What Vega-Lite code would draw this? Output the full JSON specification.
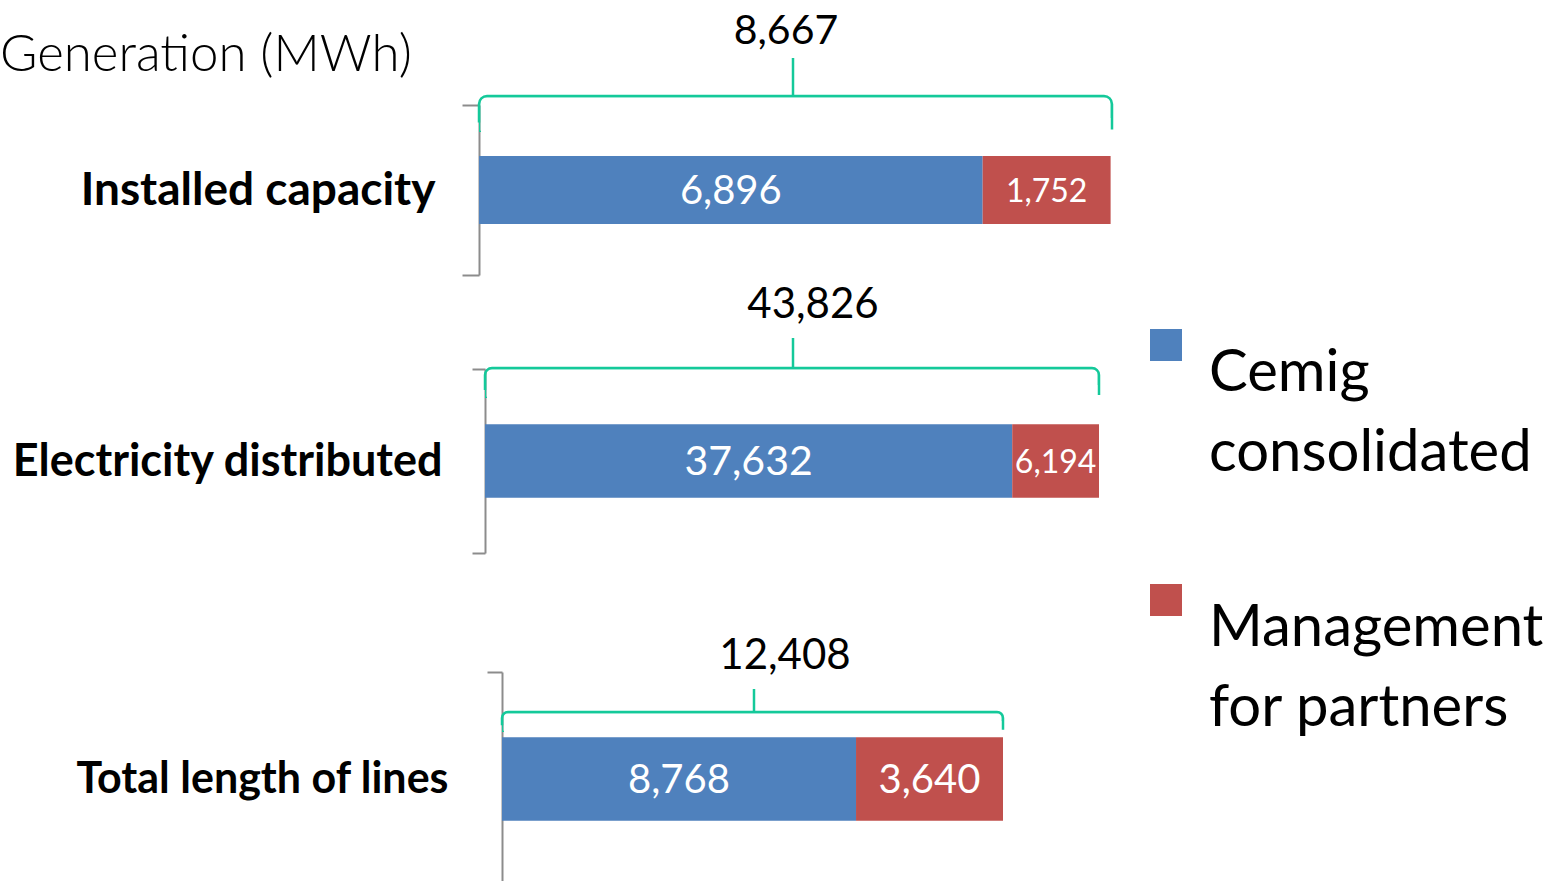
{
  "$schema": "https://vega.github.io/schema/vega-lite/v6.json",
  "padding": 0,
  "config": {"view": {"stroke": null}, "axis": {"grid": false}, "font": "Lato", "style": {"guide-label": {"lineHeight": 80}}},
  "datasets": {
    "bars": [
      {"metric": "Installed capacity", "series": "Cemig consolidated", "value": 6896},
      {"metric": "Installed capacity", "series": "Management for partners", "value": 1752},
      {"metric": "Electricity distributed", "series": "Cemig consolidated", "value": 37632},
      {"metric": "Electricity distributed", "series": "Management for partners", "value": 6194},
      {"metric": "Total length of lines", "series": "Cemig consolidated", "value": 8768},
      {"metric": "Total length of lines", "series": "Management for partners", "value": 3640}
    ],
    "totals": [
      {"metric": "Installed capacity", "total": 8667},
      {"metric": "Electricity distributed", "total": 43826},
      {"metric": "Total length of lines", "total": 12408}
    ]
  },
  "title": {"text": "Generation (MWh)", "anchor": "start", "orient": "top", "offset": -122, "baseline": "alphabetic", "font": "Lato", "fontSize": 51, "fontWeight": 300, "color": "#000000"},
  "spacing": 0,
  "align": "none",
  "bounds": "full",
  "resolve": {"scale": {"x": "independent", "y": "independent", "color": "shared"}},
  "vconcat": [
    {
      "width": 610, "height": 170,
      "layer": [
        {
          "data": {"name": "bars"},
          "transform": [{"filter": "datum.metric === 'Installed capacity'"}],
          "mark": {"type": "bar", "height": {"band": 0.4}},
          "encoding": {
            "y": {"field": "metric", "type": "nominal", "title": null, "scale": {"paddingInner": 0, "paddingOuter": 0},
                  "axis": {"offset": 23, "domainColor": "#8C8C8C", "domainWidth": 2, "tickColor": "#8C8C8C", "tickWidth": 2, "tickSize": 17, "tickBand": "extent", "labelFont": "Lato", "labelFontWeight": "bold", "labelFontSize": 46, "labelColor": "#000000", "labelPadding": 27, "labelLimit": 1000, "minExtent": 479, "maxExtent": 479}},
            "x": {"field": "value", "type": "quantitative", "stack": "zero", "title": null, "scale": {"nice": false, "zero": true, "range": [-23, 610]},
                  "axis": {"orient": "top", "domain": false, "ticks": false, "labels": false, "title": null, "minExtent": 105, "maxExtent": 105}},
            "order": {"field": "series", "type": "nominal", "sort": "ascending"},
            "color": {"field": "series", "type": "nominal",
                      "scale": {"domain": ["Cemig consolidated", "Management for partners"], "range": ["#4F81BD", "#C0504D"]},
                      "legend": {"orient": "none", "legendX": 635, "legendY": 211, "title": null, "symbolType": "square", "symbolSize": 1024, "symbolStrokeWidth": 0,
                                 "labelFont": "Lato", "labelFontSize": 58, "labelColor": "#000000", "labelBaseline": "top", "labelOffset": 14, "labelLimit": 1000, "rowPadding": 88,
                                 "labelExpr": "datum.label === 'Cemig consolidated' ? ['Cemig', 'consolidated'] : ['Management', 'for partners']"}}
          }
        },
        {
          "data": {"name": "bars"},
          "transform": [{"filter": "datum.metric === 'Installed capacity'"}],
          "mark": {"type": "text", "color": "#FFFFFF", "font": "Lato", "baseline": "middle", "dy": 2},
          "encoding": {
            "y": {"field": "metric", "type": "nominal", "title": null},
            "x": {"field": "value", "type": "quantitative", "stack": "zero", "bandPosition": 0.5, "title": null},
            "order": {"field": "series", "type": "nominal", "sort": "ascending"},
            "detail": {"field": "series", "type": "nominal"},
            "text": {"field": "value", "type": "quantitative", "format": ","},
            "size": {"condition": {"test": "datum.series === 'Cemig consolidated'", "value": 40}, "value": 32}
          }
        },
        {
          "data": {"name": "totals"},
          "transform": [{"filter": "datum.metric === 'Installed capacity'"}],
          "mark": {"type": "bar", "fillOpacity": 0, "stroke": "#14C99A", "strokeWidth": 2.5, "height": 36, "yOffset": -76, "cornerRadiusTopLeft": 8, "cornerRadiusTopRight": 8, "strokeDash": [655, 645]},
          "encoding": {
            "y": {"field": "metric", "type": "nominal", "title": null},
            "x": {"field": "total", "type": "quantitative", "title": null}
          }
        },
        {
          "data": {"name": "totals"},
          "transform": [{"filter": "datum.metric === 'Installed capacity'"}],
          "mark": {"type": "tick", "orient": "vertical", "color": "#14C99A", "size": 38, "thickness": 2.5, "opacity": 1, "x": "width", "xOffset": -319, "yOffset": -113},
          "encoding": {"y": {"field": "metric", "type": "nominal", "title": null}}
        },
        {
          "data": {"name": "totals"},
          "transform": [{"filter": "datum.metric === 'Installed capacity'"}],
          "mark": {"type": "text", "color": "#000000", "font": "Lato", "fontSize": 41, "baseline": "alphabetic", "align": "center", "x": "width", "dx": -326, "dy": -146},
          "encoding": {
            "y": {"field": "metric", "type": "nominal", "title": null},
            "text": {"field": "total", "type": "quantitative", "format": ","}
          }
        }
      ]
    },
    {
      "width": 597, "height": 184,
      "layer": [
        {
          "data": {"name": "bars"},
          "transform": [{"filter": "datum.metric === 'Electricity distributed'"}],
          "mark": {"type": "bar", "height": {"band": 0.4}},
          "encoding": {
            "y": {"field": "metric", "type": "nominal", "title": null, "scale": {"paddingInner": 0, "paddingOuter": 0},
                  "axis": {"offset": 17, "domainColor": "#8C8C8C", "domainWidth": 2, "tickColor": "#8C8C8C", "tickWidth": 2, "tickSize": 13, "tickBand": "extent", "labelFont": "Lato", "labelFontWeight": "bold", "labelFontSize": 45, "labelColor": "#000000", "labelPadding": 30, "labelLimit": 1000, "minExtent": 485, "maxExtent": 485}},
            "x": {"field": "value", "type": "quantitative", "stack": "zero", "title": null, "scale": {"nice": false, "zero": true, "range": [-17, 597]},
                  "axis": {"orient": "top", "domain": false, "ticks": false, "labels": false, "title": null, "minExtent": 93, "maxExtent": 93}},
            "order": {"field": "series", "type": "nominal", "sort": "ascending"},
            "color": {"field": "series", "type": "nominal"}
          }
        },
        {
          "data": {"name": "bars"},
          "transform": [{"filter": "datum.metric === 'Electricity distributed'"}],
          "mark": {"type": "text", "color": "#FFFFFF", "font": "Lato", "baseline": "middle", "dy": 2},
          "encoding": {
            "y": {"field": "metric", "type": "nominal", "title": null},
            "x": {"field": "value", "type": "quantitative", "stack": "zero", "bandPosition": 0.5, "title": null},
            "order": {"field": "series", "type": "nominal", "sort": "ascending"},
            "detail": {"field": "series", "type": "nominal"},
            "text": {"field": "value", "type": "quantitative", "format": ","},
            "size": {"condition": {"test": "datum.series === 'Cemig consolidated'", "value": 41}, "value": 32}
          }
        },
        {
          "data": {"name": "totals"},
          "transform": [{"filter": "datum.metric === 'Electricity distributed'"}],
          "mark": {"type": "bar", "fillOpacity": 0, "stroke": "#14C99A", "strokeWidth": 2.5, "height": 30, "yOffset": -78, "cornerRadiusTopLeft": 7, "cornerRadiusTopRight": 7, "strokeDash": [631, 625]},
          "encoding": {
            "y": {"field": "metric", "type": "nominal", "title": null},
            "x": {"field": "total", "type": "quantitative", "title": null}
          }
        },
        {
          "data": {"name": "totals"},
          "transform": [{"filter": "datum.metric === 'Electricity distributed'"}],
          "mark": {"type": "tick", "orient": "vertical", "color": "#14C99A", "size": 30, "thickness": 2.5, "opacity": 1, "x": "width", "xOffset": -306, "yOffset": -108},
          "encoding": {"y": {"field": "metric", "type": "nominal", "title": null}}
        },
        {
          "data": {"name": "totals"},
          "transform": [{"filter": "datum.metric === 'Electricity distributed'"}],
          "mark": {"type": "text", "color": "#000000", "font": "Lato", "fontSize": 42, "baseline": "alphabetic", "align": "center", "x": "width", "dx": -286, "dy": -143},
          "encoding": {
            "y": {"field": "metric", "type": "nominal", "title": null},
            "text": {"field": "total", "type": "quantitative", "format": ","}
          }
        }
      ]
    },
    {
      "width": 501, "height": 214,
      "layer": [
        {
          "data": {"name": "bars"},
          "transform": [{"filter": "datum.metric === 'Total length of lines'"}],
          "mark": {"type": "bar", "height": {"band": 0.39}},
          "encoding": {
            "y": {"field": "metric", "type": "nominal", "title": null, "scale": {"paddingInner": 0, "paddingOuter": 0},
                  "axis": {"domainColor": "#8C8C8C", "domainWidth": 2, "tickColor": "#8C8C8C", "tickWidth": 2, "tickSize": 15, "tickBand": "extent", "labelFont": "Lato", "labelFontWeight": "bold", "labelFontSize": 43, "labelColor": "#000000", "labelPadding": 39, "labelLimit": 1000, "minExtent": 502, "maxExtent": 502}},
            "x": {"field": "value", "type": "quantitative", "stack": "zero", "title": null, "scale": {"nice": false, "zero": true},
                  "axis": {"orient": "top", "domain": false, "ticks": false, "labels": false, "title": null, "minExtent": 118, "maxExtent": 118}},
            "order": {"field": "series", "type": "nominal", "sort": "ascending"},
            "color": {"field": "series", "type": "nominal"}
          }
        },
        {
          "data": {"name": "bars"},
          "transform": [{"filter": "datum.metric === 'Total length of lines'"}],
          "mark": {"type": "text", "color": "#FFFFFF", "font": "Lato", "baseline": "middle", "dy": 2, "fontSize": 40},
          "encoding": {
            "y": {"field": "metric", "type": "nominal", "title": null},
            "x": {"field": "value", "type": "quantitative", "stack": "zero", "bandPosition": 0.5, "title": null},
            "order": {"field": "series", "type": "nominal", "sort": "ascending"},
            "detail": {"field": "series", "type": "nominal"},
            "text": {"field": "value", "type": "quantitative", "format": ","}
          }
        },
        {
          "data": {"name": "totals"},
          "transform": [{"filter": "datum.metric === 'Total length of lines'"}],
          "mark": {"type": "bar", "fillOpacity": 0, "stroke": "#14C99A", "strokeWidth": 2.5, "height": 20, "yOffset": -57, "cornerRadiusTopLeft": 6, "cornerRadiusTopRight": 6, "strokeDash": [510, 510]},
          "encoding": {
            "y": {"field": "metric", "type": "nominal", "title": null},
            "x": {"field": "total", "type": "quantitative", "title": null}
          }
        },
        {
          "data": {"name": "totals"},
          "transform": [{"filter": "datum.metric === 'Total length of lines'"}],
          "mark": {"type": "tick", "orient": "vertical", "color": "#14C99A", "size": 23, "thickness": 2.5, "opacity": 1, "x": "width", "xOffset": -249, "yOffset": -78.5},
          "encoding": {"y": {"field": "metric", "type": "nominal", "title": null}}
        },
        {
          "data": {"name": "totals"},
          "transform": [{"filter": "datum.metric === 'Total length of lines'"}],
          "mark": {"type": "text", "color": "#000000", "font": "Lato", "fontSize": 42, "baseline": "alphabetic", "align": "center", "x": "width", "dx": -218, "dy": -110},
          "encoding": {
            "y": {"field": "metric", "type": "nominal", "title": null},
            "text": {"field": "total", "type": "quantitative", "format": ","}
          }
        }
      ]
    }
  ]
}
